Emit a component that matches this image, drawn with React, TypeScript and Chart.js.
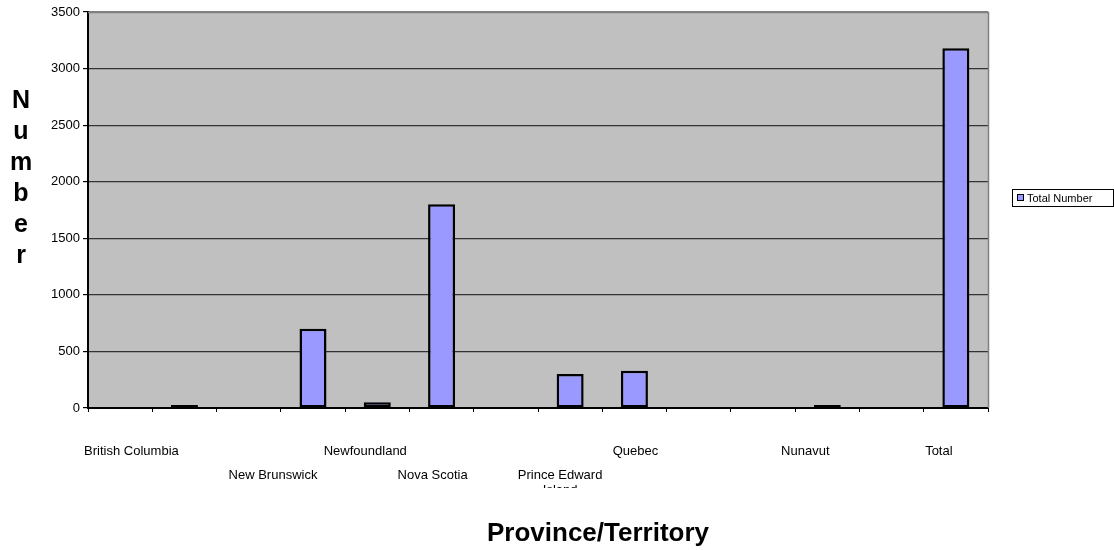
import { useEffect, useRef } from "react";
import { Chart, registerables } from "chart.js";

Chart.register(...registerables);

// Categories along the x axis; blank entries carry no label and no value
const provinces = [
  "",
  "British Columbia",
  "",
  "New Brunswick",
  "Newfoundland",
  "Nova Scotia",
  "",
  "Prince Edward Island",
  "Quebec",
  "",
  "",
  "Nunavut",
  "",
  "Total",
];
const totalNumber: (number | null)[] = [
  null, 5, null, 700, 50, 1800, null, 300, 330, null, null, 10, null, 3180,
];
const yTickValues = [0, 500, 1000, 1500, 2000, 2500, 3000, 3500];
const seriesName = "Total Number";
const yTitle = "Number";
const xTitle = "Province/Territory";

// Category label layout: staggered row and horizontal nudge (px)
const labelRow = [0, 0, 0, 1, 0, 1, 0, 1, 0, 0, 0, 0, 0, 0];
const labelShift = [0, -53, 0, -40, -12, -9, 0, -10, 1, 0, 0, -22, 0, -17];

const FONT = '"Liberation Sans", Arial, Helvetica, sans-serif';
const BAR_FILL = "#9999FF";
const PLOT_BG = "#C0C0C0";

function wrapText(ctx: CanvasRenderingContext2D, text: string, maxWidth: number) {
  const words = text.split(" ");
  const lines: string[] = [];
  let cur = "";
  for (const w of words) {
    const test = cur ? cur + " " + w : w;
    if (cur && ctx.measureText(test).width > maxWidth) {
      lines.push(cur);
      cur = w;
    } else {
      cur = test;
    }
  }
  if (cur) lines.push(cur);
  return lines;
}

const plotBackground = {
  id: "plotBackground",
  beforeDraw(chart: any) {
    const { ctx, chartArea: a } = chart;
    ctx.save();
    ctx.fillStyle = PLOT_BG;
    ctx.fillRect(a.left, a.top, a.right - a.left, a.bottom - a.top);
    ctx.restore();
  },
  afterDatasetsDraw(chart: any) {
    const { ctx, chartArea: a } = chart;
    ctx.save();
    ctx.strokeStyle = "#808080";
    ctx.lineWidth = 1.5;
    ctx.beginPath();
    ctx.moveTo(a.left, a.top + 0.5);
    ctx.lineTo(a.right + 0.5, a.top + 0.5);
    ctx.lineTo(a.right + 0.5, a.bottom);
    ctx.stroke();
    ctx.restore();
  },
};

const categoryLabels = {
  id: "categoryLabels",
  afterDraw(chart: any) {
    const { ctx } = chart;
    const x = chart.scales.x;
    ctx.save();
    ctx.beginPath();
    ctx.rect(0, x.top, chart.width, 488 - x.top);
    ctx.clip();
    ctx.font = `13px ${FONT}`;
    ctx.fillStyle = "#000";
    ctx.textAlign = "center";
    ctx.textBaseline = "middle";
    provinces.forEach((name, i) => {
      if (!name) return;
      const lines = wrapText(ctx, name, 110);
      const cx = x.getPixelForValue(i) + labelShift[i];
      const y0 = x.top + 43 + labelRow[i] * 24;
      lines.forEach((ln, k) => ctx.fillText(ln, cx, y0 + k * 15));
    });
    ctx.restore();
  },
};

const axisTitles = {
  id: "axisTitles",
  afterDraw(chart: any) {
    const { ctx } = chart;
    ctx.save();
    ctx.fillStyle = "#000";
    ctx.font = `bold 25px ${FONT}`;
    ctx.textAlign = "center";
    ctx.textBaseline = "alphabetic";
    yTitle.split("").forEach((ch, k) => ctx.fillText(ch, 21, 108 + k * 31));
    ctx.font = `bold 26px ${FONT}`;
    ctx.fillText(xTitle, 598, 541);
    ctx.restore();
  },
};

const legendBox = {
  id: "legendBox",
  afterDraw(chart: any) {
    const { ctx } = chart;
    const ds = chart.data.datasets[0];
    ctx.save();
    ctx.strokeStyle = "#000";
    ctx.lineWidth = 1;
    ctx.strokeRect(1012.5, 189.5, 101, 17);
    ctx.fillStyle = ds.backgroundColor;
    ctx.fillRect(1017, 194, 7, 7);
    ctx.strokeRect(1017.5, 194.5, 6, 6);
    ctx.fillStyle = "#000";
    ctx.font = `11px ${FONT}`;
    ctx.textAlign = "left";
    ctx.textBaseline = "middle";
    ctx.fillText(ds.label, 1027, 198.5);
    ctx.restore();
  },
};

export default function App() {
  const canvasRef = useRef<HTMLCanvasElement | null>(null);

  useEffect(() => {
    const canvas = canvasRef.current;
    if (!canvas) return;
    const chart = new Chart(canvas, {
      type: "bar",
      data: {
        labels: provinces,
        datasets: [
          {
            label: seriesName,
            data: totalNumber,
            backgroundColor: BAR_FILL,
            borderColor: "#000",
            borderWidth: 2.5,
            borderSkipped: false,
            categoryPercentage: 1,
            barPercentage: 0.42,
            minBarLength: 3,
          },
        ],
      },
      options: {
        responsive: false,
        animation: false,
        events: [],
        layout: { padding: { top: 12, right: 126, left: 0, bottom: 0 } },
        plugins: {
          legend: { display: false },
          tooltip: { enabled: false },
          title: { display: false },
        },
        scales: {
          x: {
            grid: {
              offset: true,
              drawOnChartArea: false,
              drawTicks: true,
              tickLength: 4,
              color: "#000",
              lineWidth: 1,
            },
            border: { display: true, color: "#000", width: 2 },
            ticks: { display: false },
            afterFit: (s: any) => {
              s.height = 142;
            },
          },
          y: {
            min: 0,
            max: 3500,
            afterBuildTicks: (s: any) => {
              s.ticks = yTickValues.map((v) => ({ value: v }));
            },
            ticks: {
              color: "#000",
              font: { family: FONT, size: 13 },
              padding: 3,
              callback: (v: any) => String(v),
            },
            grid: {
              color: (c: any) => (c.tick && c.tick.value === 3500 ? "#808080" : "#333333"),
              lineWidth: 1.2,
              tickLength: 5,
              tickColor: "#000",
            },
            border: { display: true, color: "#000", width: 2 },
            afterFit: (s: any) => {
              s.width = 88;
            },
          },
        },
      },
      plugins: [plotBackground, categoryLabels, axisTitles, legendBox],
    });
    return () => chart.destroy();
  }, []);

  return (
    <div
      style={{
        position: "fixed",
        left: 0,
        top: 0,
        width: 1114,
        height: 550,
        background: "#fff",
      }}
    >
      <canvas ref={canvasRef} width={1114} height={550} />
    </div>
  );
}
